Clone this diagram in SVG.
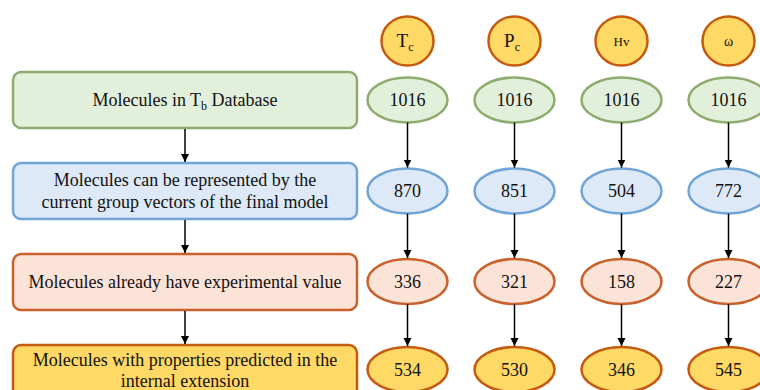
<svg xmlns="http://www.w3.org/2000/svg" width="760" height="390" viewBox="0 0 760 390">
<defs>
<marker id="ah" markerWidth="10" markerHeight="10" refX="8" refY="5" orient="auto" markerUnits="userSpaceOnUse">
<path d="M0,1 L8,5 L0,9 Z" fill="#000"/>
</marker>
<style>
text{fill:#111;text-anchor:middle}
.bt{font-size:18px}
.nt{font-size:18px}
.g{fill:#e2efda;stroke:#8fac6e;stroke-width:2.5}
.b{fill:#dde9f6;stroke:#72a5d7;stroke-width:2.5}
.p{fill:#fce3d7;stroke:#c8612b;stroke-width:2.5}
.y{fill:#fed966;stroke:#c55a11;stroke-width:2.5}
.c line{stroke:#000;stroke-width:1.5;marker-end:url(#ah)}
</style>
</defs>
<rect width="760" height="390" fill="#fff"/>
<g font-family="Liberation Serif, Times New Roman, serif">
<g id="box1"><rect class="g" x="13" y="72" width="344" height="56" rx="8"/><text class="bt" x="185" y="106">Molecules in T<tspan font-size="12" dy="4">b</tspan><tspan dy="-4"> Database</tspan></text></g>
<g id="box2"><rect class="b" x="13" y="163" width="344" height="56" rx="8"/><text class="bt" x="185" y="186">Molecules can be represented by the</text><text class="bt" x="185" y="208">current group vectors of the final model</text></g>
<g id="box3"><rect class="p" x="13" y="254" width="344" height="56" rx="8"/><text class="bt" x="185" y="288">Molecules already have experimental value</text></g>
<g id="box4"><rect class="y" x="13" y="345" width="344" height="56" rx="8"/><text class="bt" x="185" y="366">Molecules with properties predicted in the</text><text class="bt" x="185" y="387">internal extension</text></g>

<g id="hTc"><ellipse class="y" cx="407.5" cy="41" rx="26" ry="24.5"/><text x="405" y="47" font-size="19">T<tspan font-size="12" dy="4">c</tspan></text></g>
<g id="hPc"><ellipse class="y" cx="514.5" cy="41" rx="26" ry="24.5"/><text x="512" y="47" font-size="19">P<tspan font-size="12" dy="4">c</tspan></text></g>
<g id="hHv"><ellipse class="y" cx="621.5" cy="41" rx="26" ry="24.5"/><text x="621.5" y="46" font-size="13">Hv</text></g>
<g id="hW"><ellipse class="y" cx="728.5" cy="41" rx="26" ry="24.5"/><text x="728.5" y="46" font-size="14">ω</text></g>

<g id="tc1"><ellipse class="g" cx="407.5" cy="100" rx="40" ry="22.5"/><text class="nt" x="407.5" y="106">1016</text></g>
<g id="pc1"><ellipse class="g" cx="514.5" cy="100" rx="40" ry="22.5"/><text class="nt" x="514.5" y="106">1016</text></g>
<g id="hv1"><ellipse class="g" cx="621.5" cy="100" rx="40" ry="22.5"/><text class="nt" x="621.5" y="106">1016</text></g>
<g id="w1"><ellipse class="g" cx="728.5" cy="100" rx="40" ry="22.5"/><text class="nt" x="728.5" y="106">1016</text></g>

<g id="tc2"><ellipse class="b" cx="407.5" cy="191" rx="40" ry="22.5"/><text class="nt" x="407.5" y="197">870</text></g>
<g id="pc2"><ellipse class="b" cx="514.5" cy="191" rx="40" ry="22.5"/><text class="nt" x="514.5" y="197">851</text></g>
<g id="hv2"><ellipse class="b" cx="621.5" cy="191" rx="40" ry="22.5"/><text class="nt" x="621.5" y="197">504</text></g>
<g id="w2"><ellipse class="b" cx="728.5" cy="191" rx="40" ry="22.5"/><text class="nt" x="728.5" y="197">772</text></g>

<g id="tc3"><ellipse class="p" cx="407.5" cy="281.5" rx="40" ry="22.5"/><text class="nt" x="407.5" y="287.5">336</text></g>
<g id="pc3"><ellipse class="p" cx="514.5" cy="281.5" rx="40" ry="22.5"/><text class="nt" x="514.5" y="287.5">321</text></g>
<g id="hv3"><ellipse class="p" cx="621.5" cy="281.5" rx="40" ry="22.5"/><text class="nt" x="621.5" y="287.5">158</text></g>
<g id="w3"><ellipse class="p" cx="728.5" cy="281.5" rx="40" ry="22.5"/><text class="nt" x="728.5" y="287.5">227</text></g>

<g id="tc4"><ellipse class="y" cx="407.5" cy="369.5" rx="40" ry="22.5"/><text class="nt" x="407.5" y="375.5">534</text></g>
<g id="pc4"><ellipse class="y" cx="514.5" cy="369.5" rx="40" ry="22.5"/><text class="nt" x="514.5" y="375.5">530</text></g>
<g id="hv4"><ellipse class="y" cx="621.5" cy="369.5" rx="40" ry="22.5"/><text class="nt" x="621.5" y="375.5">346</text></g>
<g id="w4"><ellipse class="y" cx="728.5" cy="369.5" rx="40" ry="22.5"/><text class="nt" x="728.5" y="375.5">545</text></g>
</g>

<g id="connectors" class="c">
<line x1="185" y1="129" x2="185" y2="162"/>
<line x1="185" y1="220" x2="185" y2="253"/>
<line x1="185" y1="311" x2="185" y2="344"/>
<line x1="407.5" y1="122.5" x2="407.5" y2="167.5"/>
<line x1="514.5" y1="122.5" x2="514.5" y2="167.5"/>
<line x1="621.5" y1="122.5" x2="621.5" y2="167.5"/>
<line x1="728.5" y1="122.5" x2="728.5" y2="167.5"/>
<line x1="407.5" y1="213.5" x2="407.5" y2="258"/>
<line x1="514.5" y1="213.5" x2="514.5" y2="258"/>
<line x1="621.5" y1="213.5" x2="621.5" y2="258"/>
<line x1="728.5" y1="213.5" x2="728.5" y2="258"/>
<line x1="407.5" y1="304" x2="407.5" y2="346"/>
<line x1="514.5" y1="304" x2="514.5" y2="346"/>
<line x1="621.5" y1="304" x2="621.5" y2="346"/>
<line x1="728.5" y1="304" x2="728.5" y2="346"/>
</g>
</svg>
